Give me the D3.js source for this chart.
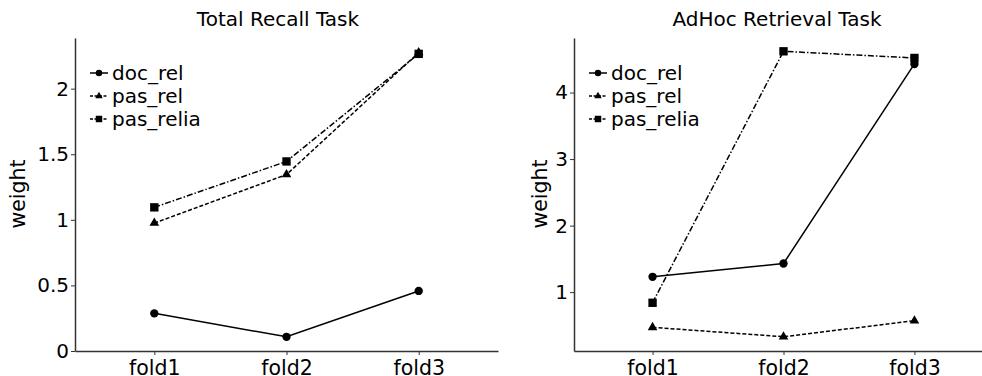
<!DOCTYPE html>
<html>
<head>
<meta charset="utf-8">
<script src="https://cdn.jsdelivr.net/npm/d3@7"></script>
<style>
  body { margin: 0; background: #fff; }
  text { font-family: "DejaVu Sans", sans-serif; fill: #000; }
</style>
</head>
<body>
<svg id="chart" width="982" height="376"></svg>
<script>
var folds = ["fold1", "fold2", "fold3"];
var seriesNames = ["doc_rel", "pas_rel", "pas_relia"];

// Total Recall Task
var recallDocRel = [0.287, 0.108, 0.458];
var recallPasRel = [0.975, 1.345, 2.275];
var recallPasRelia = [1.095, 1.445, 2.265];
var recallTicks = [0, 0.5, 1, 1.5, 2];

// AdHoc Retrieval Task
var adhocDocRel = [1.23, 1.43, 4.43];
var adhocPasRel = [0.47, 0.33, 0.57];
var adhocPasRelia = [0.84, 4.62, 4.52];
var adhocTicks = [1, 2, 3, 4];

var svg = d3.select("#chart");

var styles = {
  doc_rel:   { dash: null,        marker: d3.symbolCircle,   size: 55 },
  pas_rel:   { dash: "4,2",       marker: d3.symbolTriangle, size: 40 },
  pas_relia: { dash: "6,2,1.5,2", marker: d3.symbolSquare,   size: 70 }
};

function panel(opts) {
  var x = d3.scaleLinear().domain([-0.6, 2.6]).range([opts.left, opts.right]);
  var y = d3.scaleLinear().domain(opts.ydomain).range([351, 38]);
  var g = svg.append("g");

  g.append("g")
      .attr("transform", "translate(0,351)")
      .call(d3.axisBottom(x).tickValues([0, 1, 2]).tickFormat(function(i) { return folds[i]; })
        .tickSize(4).tickSizeOuter(0))
      .call(function(a) {
        a.select(".domain").attr("stroke", "#333").attr("stroke-width", 1.5);
        a.selectAll(".tick line").attr("stroke", "#333");
        a.selectAll(".tick text").attr("dy", "0.85em").style("font-size", "20.5px");
      });

  g.append("g")
      .attr("transform", "translate(" + opts.left + ",0)")
      .call(d3.axisLeft(y).tickValues(opts.ticks).tickFormat(d3.format("")).tickSize(4).tickSizeOuter(0))
      .call(function(a) {
        a.select(".domain").attr("stroke", "#333").attr("stroke-width", 1.5);
        a.selectAll(".tick line").attr("stroke", "#333");
        a.selectAll(".tick text").attr("x", -6).style("font-size", "20px");
      });

  g.append("text")
      .attr("x", opts.titleX).attr("y", 26)
      .attr("text-anchor", "middle")
      .style("font-size", "20px")
      .text(opts.title);

  g.append("text")
      .attr("transform", "translate(" + opts.ylabelX + ",194) rotate(-90)")
      .attr("text-anchor", "middle")
      .attr("dy", "0.35em")
      .style("font-size", "20.5px")
      .text("weight");

  var line = d3.line().x(function(d, i) { return x(i); }).y(function(d) { return y(d); });

  opts.series.forEach(function(vals, k) {
    var st = styles[seriesNames[k]];
    g.append("path")
        .datum(vals)
        .attr("d", line)
        .attr("fill", "none")
        .attr("stroke", "#000")
        .attr("stroke-width", 1.5)
        .attr("stroke-dasharray", st.dash);
    g.selectAll(".m" + k)
      .data(vals)
      .enter().append("path")
        .attr("transform", function(d, i) { return "translate(" + x(i) + "," + y(d) + ")"; })
        .attr("d", d3.symbol().type(st.marker).size(st.size))
        .attr("fill", "#000");
  });

  // legend
  var lg = g.append("g").attr("transform", "translate(" + (opts.left + 15) + ",73)");
  seriesNames.forEach(function(name, k) {
    var st = styles[name];
    var row = lg.append("g").attr("transform", "translate(0," + (k * 23) + ")");
    row.append("line")
        .attr("x1", 0).attr("x2", 18)
        .attr("stroke", "#000").attr("stroke-width", 1.5)
        .attr("stroke-dasharray", st.dash ? "3,1.5" : null);
    row.append("path")
        .attr("transform", "translate(9,0)")
        .attr("d", d3.symbol().type(st.marker).size(st.size * 0.6))
        .attr("fill", "#000");
    row.append("text")
        .attr("x", 22).attr("dy", "0.35em")
        .style("font-size", "20px")
        .text(name);
  });
}

panel({
  left: 75, right: 498, ydomain: [0, 2.386], ticks: recallTicks,
  title: "Total Recall Task", titleX: 278, ylabelX: 18,
  series: [recallDocRel, recallPasRel, recallPasRelia]
});

panel({
  left: 574, right: 993, ydomain: [0.115, 4.82], ticks: adhocTicks,
  title: "AdHoc Retrieval Task", titleX: 777, ylabelX: 540,
  series: [adhocDocRel, adhocPasRel, adhocPasRelia]
});
</script>
</body>
</html>
